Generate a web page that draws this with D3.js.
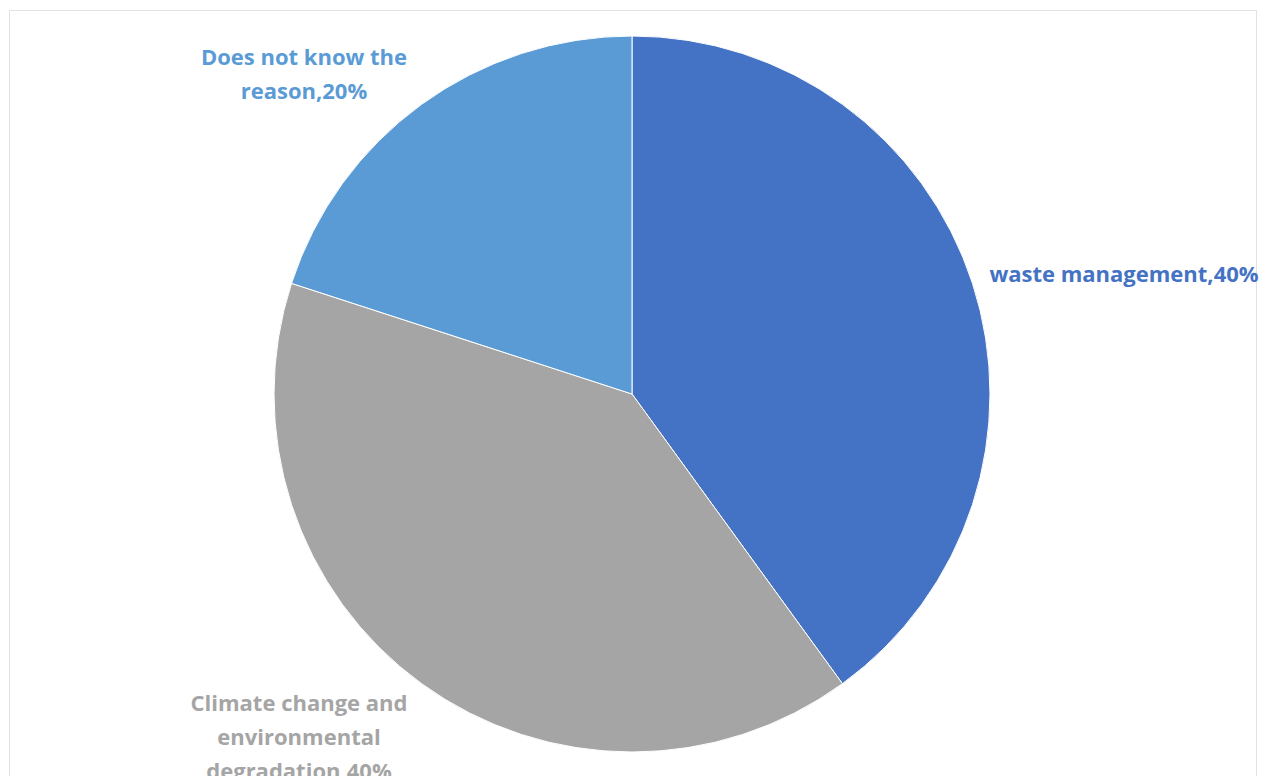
<!DOCTYPE html>
<html>
<head>
<meta charset="utf-8">
<script src="https://cdn.jsdelivr.net/npm/d3@7"></script>
<style>
  html, body { margin: 0; padding: 0; background: #ffffff; }
  svg { display: block; }
</style>
</head>
<body>
<script>
// Survey answers: reasons given
const categories = ["waste management", "Climate change and environmental degradation", "Does not know the reason"];
const values = [40, 40, 20];
const colors = ["#4472C4", "#A5A5A5", "#5B9BD5"];
// Label lines as drawn beside each slice
const labelLines = [
  ["waste management,40%"],
  ["Climate change and", "environmental", "degradation,40%"],
  ["Does not know the", "reason,20%"]
];

const W = 1266, H = 776;
const cx = 632, cy = 394, R = 358;

const svg = d3.select("body").append("svg")
  .attr("width", W).attr("height", H);

// Chart frame
svg.append("rect")
  .attr("x", 9.5).attr("y", 10.5)
  .attr("width", 1247).attr("height", 800)
  .attr("fill", "#ffffff")
  .attr("stroke", "#e3e3e3").attr("stroke-width", 1);

const pie = d3.pie().sort(null).value(d => d);
const arcs = pie(values);
const arc = d3.arc().innerRadius(0).outerRadius(R);

const g = svg.append("g").attr("transform", `translate(${cx},${cy})`);
g.selectAll("path.slice")
  .data(arcs)
  .join("path")
  .attr("class", "slice")
  .attr("d", arc)
  .attr("fill", (d, i) => colors[i])
  .attr("stroke", "#ffffff")
  .attr("stroke-width", 1);

// Label anchor points (outside the pie), first-line baselines
const labelPos = [
  { x: 1124, y: 282 },
  { x: 299, y: 711 },
  { x: 304, y: 65 }
];
const lineH = 34;
const fontSize = 22;

labelLines.forEach((lines, i) => {
  const t = svg.append("text")
    .attr("x", labelPos[i].x)
    .attr("y", labelPos[i].y)
    .attr("text-anchor", "middle")
    .attr("font-family", "'Open Sans', sans-serif")
    .attr("font-weight", "bold")
    .attr("font-size", fontSize)
    .attr("fill", colors[i]);
  lines.forEach((ln, k) => {
    t.append("tspan")
      .attr("x", labelPos[i].x)
      .attr("dy", k === 0 ? 0 : lineH)
      .text(ln);
  });
});
</script>
</body>
</html>
